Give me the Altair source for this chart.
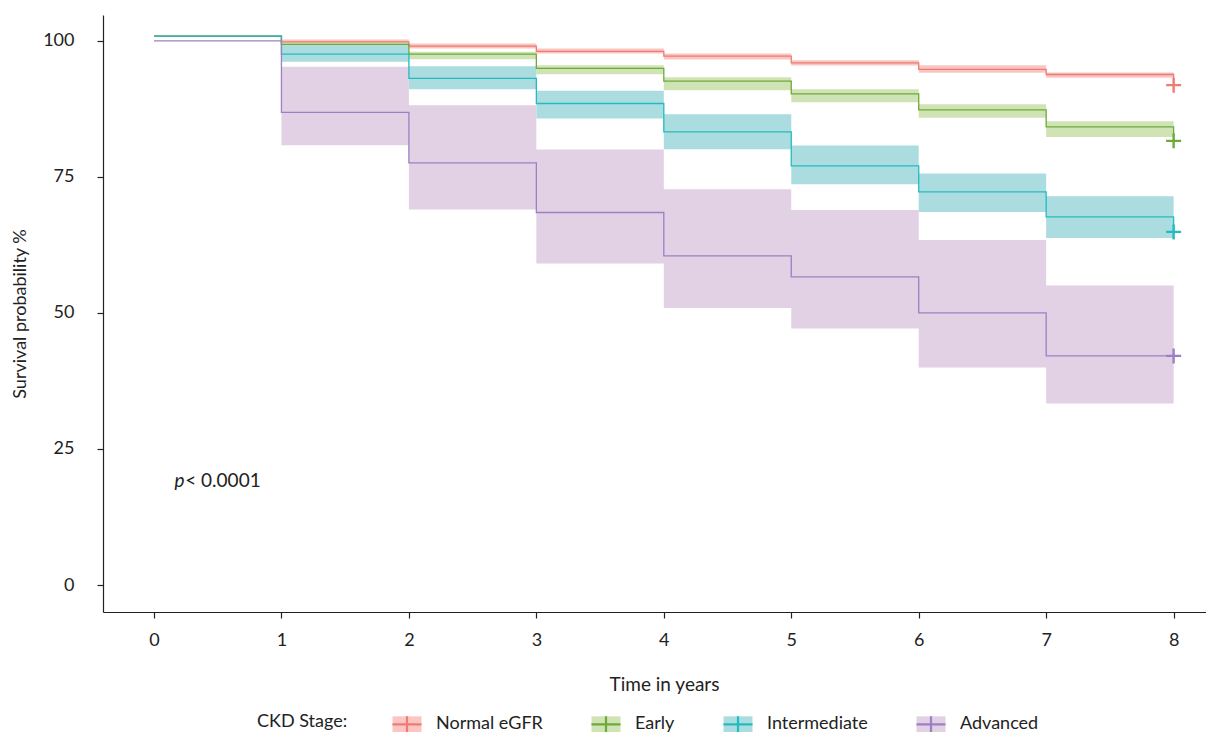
import altair as alt
import pandas as pd

# ---------------- data ----------------
times = [0, 1, 2, 3, 4, 5, 6, 7, 8]
stages = ["Normal eGFR", "Early", "Intermediate", "Advanced"]

# survival (%) at each step start, last value = value at censor mark (t=8)
normal_surv = [100.86, 99.82, 99.03, 98.05, 97.19, 95.96, 94.74, 93.82, 91.86]
normal_upper = [100.86, 100.26, 99.52, 98.60, 97.68, 96.45, 95.53, 94.19]
normal_lower = [100.86, 99.39, 98.60, 97.68, 96.58, 95.48, 94.12, 93.20]

early_surv = [100.86, 99.34, 97.56, 94.93, 92.59, 90.26, 87.32, 84.19, 81.62]
early_upper = [100.86, 99.85, 97.98, 95.53, 93.33, 91.12, 88.36, 85.24]
early_lower = [100.86, 98.80, 96.64, 93.88, 90.94, 88.73, 85.85, 82.35]

inter_surv = [100.86, 97.56, 93.09, 88.49, 83.27, 77.02, 72.24, 67.65, 64.89]
inter_upper = [100.86, 99.21, 95.35, 90.81, 86.53, 80.77, 75.63, 71.45]
inter_lower = [100.86, 96.14, 91.12, 85.74, 80.09, 73.66, 68.57, 63.79]

adv_surv = [100.0, 86.84, 77.57, 68.46, 60.48, 56.62, 50.0, 42.10, 42.10]
adv_upper = [100.0, 95.22, 88.18, 80.04, 72.74, 68.93, 63.42, 55.04]
adv_lower = [100.0, 80.83, 69.01, 59.08, 50.92, 47.13, 39.96, 33.35]

line_colors = ["#F07B72", "#6DAA3A", "#22BCC0", "#9C80C2"]
band_colors = ["#F9C6C3", "#CFE3B5", "#ABDCDF", "#E2D0E5"]

p_label_x, p_label_y = 0.16, 19.1
p_rest_x = 0.245

# ---------------- build table ----------------
series = [
    (stages[0], normal_surv, normal_upper, normal_lower),
    (stages[1], early_surv, early_upper, early_lower),
    (stages[2], inter_surv, inter_upper, inter_lower),
    (stages[3], adv_surv, adv_upper, adv_lower),
]
rows = []
for name, s, u, l in series:
    for i, t in enumerate(times):
        j = min(i, len(u) - 1)
        rows.append({"time": t, "stage": name, "stage_band": name,
                     "surv": s[i], "upper": u[j], "lower": l[j]})
df = pd.DataFrame(rows)
df_end = df[df["time"] == times[-1]]

FONT = "Lato"
xscale = alt.Scale(domain=[-0.4, 8.254], nice=False, zero=False)
yscale = alt.Scale(domain=[-4.96, 104.75], nice=False, zero=False)

xaxis = alt.Axis(values=times, format="d", title="Time in years", labelPadding=13,
                 titleX=561, titleY=72, titleBaseline="middle", titleFontSize=19)
yaxis = alt.Axis(values=[0, 25, 50, 75, 100], title="Survival probability %",
                 labelPadding=23, titleX=-83, titleY=298.5, titleBaseline="middle",
                 titleAlign="center", titleFontSize=18)

legend_common = dict(orient="none", legendX=154, legendY=693, direction="horizontal",
                     titleOrient="left", title="CKD Stage:", titlePadding=43,
                     labelOffset=13, columnPadding=44, symbolSize=841,
                     symbolStrokeWidth=2.2,
                     labelFont=FONT, labelFontSize=18, titleFont=FONT, titleFontSize=18,
                     titleFontWeight="normal", labelColor="#222", titleColor="#222")

fill_legend = alt.Legend(symbolType="M-1,-0.55H1V0.55H-1Z", symbolStrokeColor="transparent",
                         labelOpacity=0, titleOpacity=0, symbolOpacity=1, **legend_common)
stroke_legend = alt.Legend(symbolType="M-1,0H1M0,-0.55V0.55",
                           symbolFillColor="transparent", **legend_common)

base = alt.Chart(df)

bands = base.mark_area(interpolate="step-after", opacity=1).encode(
    x=alt.X("time:Q", scale=xscale, axis=xaxis),
    y=alt.Y("lower:Q", scale=yscale, axis=yaxis),
    y2="upper:Q",
    fill=alt.Fill("stage_band:N", sort=stages, scale=alt.Scale(range=band_colors),
                  legend=fill_legend),
)

lines = base.mark_line(interpolate="step-after", strokeWidth=1.3).encode(
    x=alt.X("time:Q", scale=xscale),
    y=alt.Y("surv:Q", scale=yscale),
    stroke=alt.Stroke("stage:N", sort=stages, scale=alt.Scale(range=line_colors),
                      legend=stroke_legend),
)

censor = alt.Chart(df_end).mark_point(shape="M-1,0H1M0,-1V1", size=225, strokeWidth=2.4,
                                      filled=False, opacity=1).encode(
    x=alt.X("time:Q", scale=xscale),
    y=alt.Y("surv:Q", scale=yscale),
    stroke=alt.Stroke("stage:N", sort=stages, scale=alt.Scale(range=line_colors),
                      legend=stroke_legend),
)

p_italic = alt.Chart(pd.DataFrame({"x": [p_label_x], "y": [p_label_y], "t": ["p"]})).mark_text(
    align="left", baseline="middle", font=FONT, fontSize=19, fontStyle="italic", color="#222"
).encode(x=alt.X("x:Q", scale=xscale), y=alt.Y("y:Q", scale=yscale), text="t:N")

p_rest = alt.Chart(pd.DataFrame({"x": [p_rest_x], "y": [p_label_y], "t": ["< 0.0001"]})).mark_text(
    align="left", baseline="middle", font=FONT, fontSize=19, color="#222"
).encode(x=alt.X("x:Q", scale=xscale), y=alt.Y("y:Q", scale=yscale), text="t:N")

chart = alt.layer(bands, lines, censor, p_italic, p_rest).properties(
    width=1103, height=597,
    padding={"left": 95, "top": 7, "right": 0, "bottom": 120},
    autosize=alt.AutoSizeParams(type="none"),
).configure_view(stroke=None).configure_axis(
    grid=False, domainColor="#222", tickColor="#222", labelColor="#222", titleColor="#222",
    labelFont=FONT, titleFont=FONT, labelFontSize=18,
    titleFontWeight="normal", domainWidth=1.2, tickWidth=1.2, tickSize=6,
)

chart.save("out.html", embed_options={"renderer": "svg", "actions": False})
